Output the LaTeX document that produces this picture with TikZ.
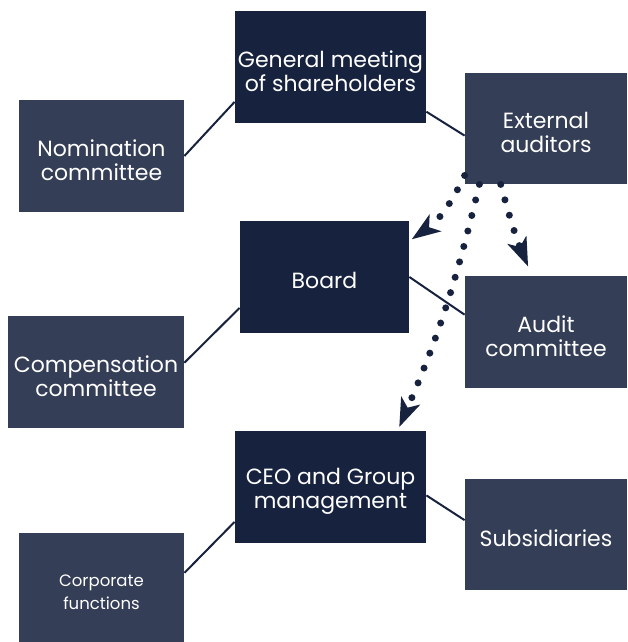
\documentclass[tikz,border=0pt]{standalone}
\usepackage{fontspec}
\setmainfont{Poppins}
\usetikzlibrary{arrows.meta}
\definecolor{navy}{HTML}{17223F}
\definecolor{slate}{HTML}{343E56}

\begin{document}
\begin{tikzpicture}[x=.5pt,y=-.5pt, lift/.style={execute at begin node={\rule{0pt}{#1}}}, lift/.default=24.5pt]

        \useasboundingbox (0,0) rectangle (627,642);

        \begin{scope}[every node/.style={rectangle, fill=navy, text=white, align=center, inner sep=0pt, minimum height=56pt, font=\fontsize{11}{12}\selectfont}]
          \node[minimum width=95.5pt, lift] (1) at (330.5,67)  {General meeting\\of shareholders};
          \node[minimum width=84.5pt, lift=12pt] (4) at (324.5,277) {Board};
          \node[minimum width=95.5pt, lift] (7) at (330.5,487) {CEO and Group\\management};
        \end{scope}

        \begin{scope}[every node/.style={rectangle, fill=slate, text=white, align=center, inner sep=0pt, minimum height=56pt, font=\fontsize{11}{12}\selectfont}]
          \node[minimum width=81pt, minimum height=55.5pt, lift] (2) at (546,128.5) {External\\auditors};
          \node[minimum width=82.5pt, lift] (3) at (101.5,156) {Nomination\\committee};
          \node[minimum width=81pt, lift] (5) at (546,332) {Audit\\committee};
          \node[minimum width=88pt, lift] (6) at (96,372) {Compensation\\committee};
          \node[minimum width=81pt, minimum height=55.5pt, lift=12pt] (8) at (546,534.5) {Subsidiaries};
          \node[minimum width=82.5pt, minimum height=54.5pt, font=\fontsize{8.25}{11.5}\selectfont, lift=22.5pt] (9) at (101.5,587.5) {Corporate\\functions};
        \end{scope}

        \begin{scope}[every edge/.style={draw=navy, line width=1pt}]
          \path (3.east) edge (1.200);
          \path (1.-25)  edge (2.185);
          \path (6.6)    edge (4.200);
          \path (4.east) edge (5.168);
          \path (7.-5)   edge (8.170);
          \path (9.10)   edge (7.200);
        \end{scope}

        \begin{scope}[every edge/.style={draw=navy, line width=3.5pt, line cap=round, dash pattern=on 0pt off 8pt, -{Stealth[length=14.5pt, width=10.5pt, inset=4pt, line width=0pt]}}]
          \path (2.210)   edge[bend left=15, shorten >=1.5pt] (4.23);
          \path (2.220)   edge[bend left=5, shorten >=2pt]    (7.40);
          \path (2.231)   edge[bend right=4, shorten >=5pt]   (5.104);
        \end{scope}

      \end{tikzpicture}
\end{document}
